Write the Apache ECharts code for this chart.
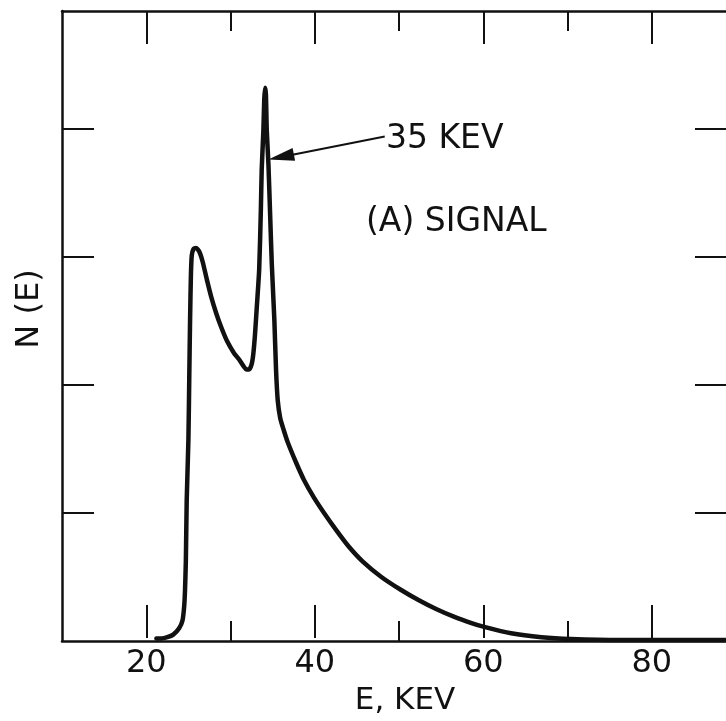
<!DOCTYPE html>
<html>
<head>
<meta charset="utf-8">
<script src="https://cdn.jsdelivr.net/npm/echarts@6/dist/echarts.min.js"></script>
<style>
  html, body { margin: 0; padding: 0; background: #fff; }
  #chart { width: 726px; height: 721px; }
</style>
</head>
<body>
<div id="chart"></div>
<script>
// energy (keV) and N(E)
const energy = [21.2, 21.8, 22.5, 23.2, 23.9, 24.3, 24.5, 24.6, 24.7, 24.8, 25.0, 25.1, 25.2, 25.3, 25.4,
  25.6, 25.9, 26.3, 26.7, 27.2, 27.7, 28.3, 28.9, 29.6, 30.4, 31.0, 31.5, 31.9, 32.2, 32.5, 32.7,
  32.9, 33.1, 33.4, 33.6, 33.7, 33.9, 34.0, 34.1, 34.2, 34.3, 34.5, 34.7, 34.9, 35.2, 35.4, 35.6,
  35.9, 36.3, 36.8, 37.8, 38.7, 39.9, 41.1, 42.5, 44.0, 45.7, 47.9, 50.2, 52.3, 54.4, 56.5, 58.6,
  60.1, 63.3, 66.9, 70.4, 76.3, 83.4, 88.8];
const counts = [0.02, 0.02, 0.03, 0.05, 0.10, 0.16, 0.27, 0.40, 0.63, 1.10, 1.57, 2.04, 2.51, 2.86, 3.01,
  3.06, 3.07, 3.04, 2.96, 2.82, 2.69, 2.56, 2.45, 2.34, 2.25, 2.20, 2.15, 2.12, 2.12, 2.16, 2.24,
  2.39, 2.59, 2.90, 3.37, 3.68, 3.99, 4.23, 4.32, 4.27, 3.99, 3.72, 3.33, 2.94, 2.51, 2.12, 1.88,
  1.74, 1.65, 1.55, 1.39, 1.26, 1.12, 1.00, 0.87, 0.74, 0.62, 0.50, 0.40, 0.32, 0.25, 0.19, 0.14,
  0.11, 0.06, 0.03, 0.016, 0.008, 0.008, 0.008];
const majorTicks = [20, 40, 60, 80];
const minorTicks = [30, 50, 70];
const yTicks = [1, 2, 3, 4];
const arrowFrom = [48.3, 3.94];
const arrowTo = [36.0, 3.78];

const FONT = 'DejaVu Sans';
const ink = '#111';

const chart = echarts.init(document.getElementById('chart'), null, { renderer: 'canvas' });

function xAxisFor(grid, pos, ticks, len, withLine) {
  return {
    type: 'value', gridIndex: grid, position: pos, min: 10, max: 88.8,
    axisLine: { show: withLine, onZero: false, lineStyle: { color: ink, width: 2.5 } },
    axisTick: { show: true, inside: true, length: len, customValues: ticks, lineStyle: { color: ink, width: 2 } },
    axisLabel: { show: false },
    splitLine: { show: false }
  };
}
function yAxisFor(grid, pos, len, withLine) {
  return {
    type: 'value', gridIndex: grid, position: pos, min: 0, max: 4.92,
    axisLine: { show: withLine, onZero: false, lineStyle: { color: ink, width: 2.5 } },
    axisTick: { show: len > 0, inside: true, length: len, customValues: yTicks, lineStyle: { color: ink, width: 2 } },
    axisLabel: { show: false },
    splitLine: { show: false }
  };
}

const xBottomMajor = xAxisFor(1, 'bottom', majorTicks, 33, false);
xBottomMajor.axisLabel = {
  show: true, margin: 10, fontFamily: FONT, fontSize: 32, color: ink, customValues: majorTicks
};
xBottomMajor.name = 'E, KEV';
xBottomMajor.nameLocation = 'middle';
xBottomMajor.nameGap = 40;
xBottomMajor.nameTextStyle = { fontFamily: FONT, fontSize: 31, color: ink, verticalAlign: 'top', padding: [0, 0, 0, 22] };

chart.setOption({
  backgroundColor: '#fff',
  animation: false,
  grid: [
    { left: 62, right: 0, top: 11, bottom: 80 },
    { left: 62, right: 0, top: 11, bottom: 80 }
  ],
  xAxis: [
    xAxisFor(0, 'bottom', minorTicks, 20, true),
    xAxisFor(0, 'top', minorTicks, 20, true),
    xBottomMajor,
    xAxisFor(1, 'top', majorTicks, 33, false)
  ],
  yAxis: [
    yAxisFor(0, 'left', 32, true),
    yAxisFor(0, 'right', 31, false),
    yAxisFor(1, 'left', 0, false)
  ],
  graphic: [
    { type: 'text', left: 366, top: 206, style: { text: '(A) SIGNAL', font: '33px "DejaVu Sans"', fill: ink } },
    { type: 'text', left: 386, top: 123, style: { text: '35 KEV', font: '33px "DejaVu Sans"', fill: ink } },
    { type: 'text', x: 30, y: 309, rotation: Math.PI / 2,
      style: { text: 'N (E)', font: '32px "DejaVu Sans"', fill: ink, align: 'center', verticalAlign: 'middle' } }
  ],
  series: [{
    type: 'line',
    xAxisIndex: 0, yAxisIndex: 0,
    data: energy.map((e, i) => [e, counts[i]]),
    showSymbol: false,
    smooth: 0.2,
    lineStyle: { color: ink, width: 4.5, join: 'round', cap: 'round' },
    markLine: {
      silent: true,
      symbol: ['none', 'triangle'],
      symbolSize: [13, 26],
      label: { show: false },
      lineStyle: { color: ink, width: 2, type: 'solid' },
      data: [[{ coord: arrowFrom }, { coord: arrowTo }]]
    }
  }]
});
</script>
</body>
</html>
